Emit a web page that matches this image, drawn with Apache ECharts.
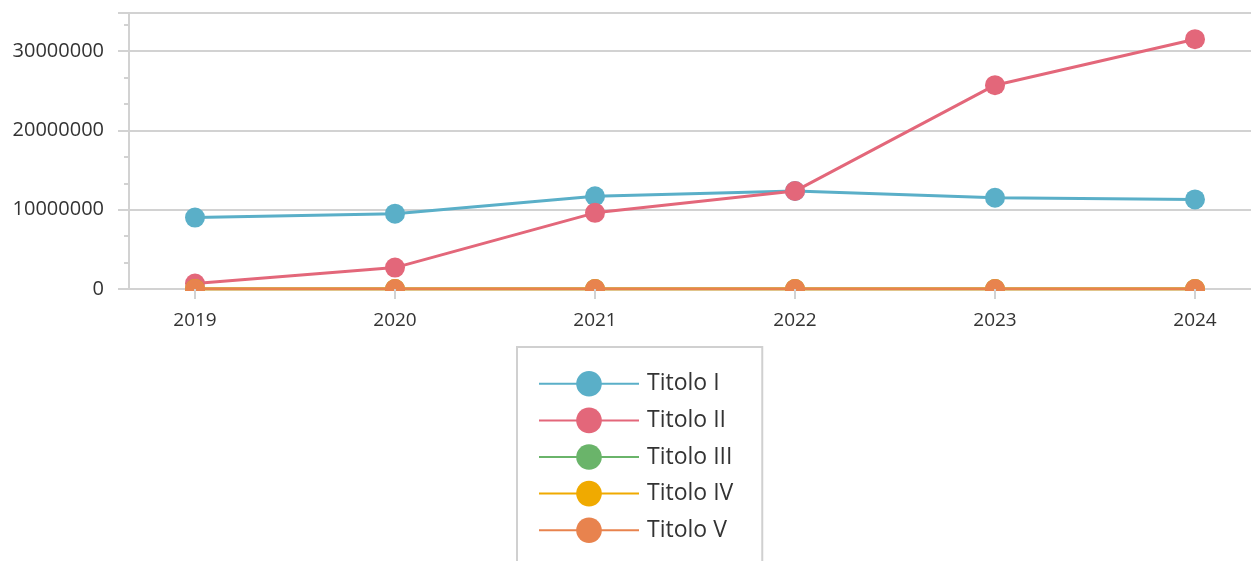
<!DOCTYPE html>
<html>
<head>
<meta charset="utf-8">
<script src="https://cdn.jsdelivr.net/npm/echarts@6/dist/echarts.min.js"></script>
<style>html,body{margin:0;padding:0;background:#fff}#c{width:1251px;height:561px}</style>
</head>
<body>
<div id="c"></div>
<script>
const years = [2019, 2020, 2021, 2022, 2023, 2024];
const seriesNames = ['Titolo I', 'Titolo II', 'Titolo III', 'Titolo IV', 'Titolo V'];
const titolo1 = [9000000, 9500000, 11700000, 12350000, 11500000, 11300000];
const titolo2 = [700000, 2700000, 9600000, 12350000, 25700000, 31500000];
const titolo3 = [0, 0, 0, 0, 0, 0];
const titolo4 = [0, 0, 0, 0, 0, 0];
const titolo5 = [0, 0, 0, 0, 0, 0];
const yTicks = [0, 10000000, 20000000, 30000000];
const colors = ['#5AAFC8', '#E3677A', '#6AB46A', '#F0AA00', '#E8834E'];

const allValues = [titolo1, titolo2, titolo3, titolo4, titolo5];
const FONT = 'Open Sans';
const GRID = '#d2d2d2';

const chart = echarts.init(document.getElementById('c'), null, {renderer: 'canvas'});
chart.setOption({
  animation: false,
  color: colors,
  textStyle: {fontFamily: FONT},
  grid: {left: 129, right: 0, top: 13, bottom: 272, containLabel: false},
  graphic: [{
    type: 'rect', left: 130, top: 291, z: 50,
    shape: {width: 1121, height: 11},
    style: {fill: '#fff'}, silent: true
  }],
  xAxis: [{
    type: 'value',
    min: 2018.67,
    max: 2024.28,
    axisLine: {show: true, lineStyle: {color: GRID, width: 2}},
    axisTick: {show: false},
    axisLabel: {customValues: years, margin: 22, color: '#333', fontSize: 19, fontFamily: FONT, formatter: v => String(Math.round(v))},
    splitLine: {show: false}
  }, {
    type: 'value',
    position: 'bottom',
    z: 60,
    min: 2018.67,
    max: 2024.28,
    axisLine: {show: false},
    axisTick: {show: true, customValues: years, length: 10, lineStyle: {color: GRID, width: 2}},
    axisLabel: {show: false},
    splitLine: {show: false}
  }],
  yAxis: {
    type: 'value',
    min: 0,
    max: 34800000,
    interval: 10000000,
    axisLine: {show: true, lineStyle: {color: GRID, width: 2}},
    axisTick: {show: true, length: 11, lineStyle: {color: GRID, width: 2}},
    minorTick: {show: true, splitNumber: 3, length: 5, lineStyle: {color: GRID, width: 2}},
    axisLabel: {margin: 25, color: '#333', fontSize: 20, fontFamily: FONT, showMaxLabel: false,
      formatter: v => yTicks.indexOf(v) >= 0 ? String(v) : ''},
    splitLine: {show: true, lineStyle: {color: GRID, width: 2}}
  },
  legend: {
    orient: 'vertical',
    left: 517,
    top: 347,
    height: 300,
    z: 70,
    data: seriesNames,
    itemWidth: 100,
    itemHeight: 32,
    itemGap: 11,
    padding: [24, 29, 40, 21],
    borderColor: '#d0d0d0',
    borderWidth: 2,
    lineStyle: {width: 2},
    textStyle: {color: '#333', fontSize: 23, fontFamily: FONT, padding: [0, 0, 0, 3]}
  },
  series: seriesNames.map((name, i) => ({
    name: name,
    type: 'line',
    xAxisIndex: 0,
    data: years.map((y, j) => [y, allValues[i][j]]),
    symbol: 'circle',
    symbolSize: 20,
    lineStyle: {width: 3, color: colors[i]},
    itemStyle: {color: colors[i]},
    z: 2 + i
  }))
});
</script>
</body>
</html>
